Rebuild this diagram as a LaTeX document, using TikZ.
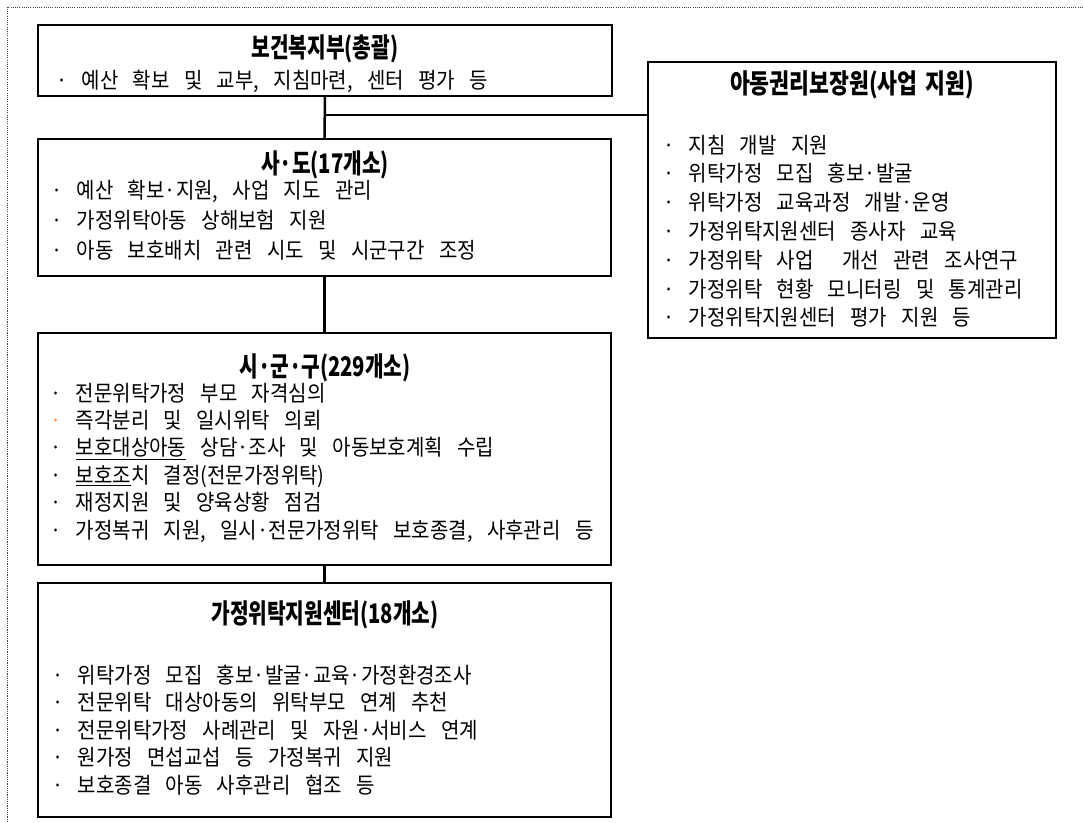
\documentclass[tikz,border=0pt]{standalone}
\usepackage{fontspec}
\setmainfont{Noto Sans CJK KR}
\newfontfamily\bodyfont[FakeStretch=0.91,WordSpace=3.2]{Noto Sans CJK KR}
\newfontfamily\titlefont[FakeStretch=0.75]{Noto Sans CJK KR}
\newfontfamily\rtitlefont[FakeStretch=0.80,WordSpace=1.6]{Noto Sans CJK KR}
\definecolor{dotorange}{HTML}{F08A4B}
\begin{document}
\begin{tikzpicture}[x=1pt,y=-1pt,
  orgbox/.style={draw=black, line width=2.8pt, inner sep=0pt, outer sep=0pt, anchor=north west},
  conn/.style={draw=black, line width=2.5pt},
  frame/.style={draw=black!75, line width=0.9pt, dash pattern=on 1.1pt off 1.1pt},
  ttl/.style={font=\titlefont\bfseries\fontsize{27}{31}\selectfont, inner sep=0pt, text height=21.6pt, text depth=1.6pt, anchor=center},
  rttl/.style={font=\rtitlefont\bfseries\fontsize{27}{31}\selectfont, inner sep=0pt, text height=21.6pt, text depth=1.6pt, anchor=center},
  bodytxt/.style={font=\bodyfont\fontsize{22}{26}\selectfont, inner sep=0pt, text height=17.6pt, text depth=1.3pt, anchor=west}]
\useasboundingbox (0,0) rectangle (1083,822);
\draw[frame] (1083,7) -- (7,7) -- (7,822);

% boxes
\node[orgbox, minimum width=574pt, minimum height=71pt] (b1) at (38,25) {};
\node[orgbox, minimum width=573pt, minimum height=137pt] (b2) at (38,139) {};
\node[orgbox, minimum width=573pt, minimum height=232pt] (b3) at (38,333) {};
\node[orgbox, minimum width=573pt, minimum height=234pt] (b4) at (38,583) {};
\node[orgbox, minimum width=408pt, minimum height=276pt] (r) at (648,62) {};

% connectors
\path (b1.south) ++(0,19) coordinate (j);
\draw[conn] (b1.south) -- (b2.north);
\draw[conn] (j) -- (j -| r.west);
\draw[conn] (b2.south) -- (b3.north);
\draw[conn] (b3.south) -- (b4.north);

% titles
\node[ttl] (t1) at (325,47) {보건복지부(총괄)};
\node[ttl] (t2) at (325,163) {사·도(17개소)};
\node[ttl] (t3) at (325,366) {시·군·구(229개소)};
\node[ttl] (t4) at (325,613) {가정위탁지원센터(18개소)};
\node[rttl] (t5) at (852,83) {아동권리보장원(사업 지원)};

% box 1
\node[bodytxt] (b1l1) at (56,80) {· 예산 확보 및 교부, 지침마련, 센터 평가 등};

% box 2
\foreach \t [count=\i] in {{· 예산 확보·지원, 사업 지도 관리},{· 가정위탁아동 상해보험 지원},{· 아동 보호배치 관련 시도 및 시군구간 조정}}
  \node[bodytxt] (b2l\i) at ({51},{190+30*(\i-1)}) {\t};

% box 3
\foreach \t [count=\i] in {{· 전문위탁가정 부모 자격심의},{{\color{dotorange}·} 즉각분리 및 일시위탁 의뢰},{· \underline{보호대상아동} 상담·조사 및 아동보호계획 수립},{· \underline{보호조}치 결정(전문가정위탁)},{· 재정지원 및 양육상황 점검},{· 가정복귀 지원, 일시·전문가정위탁 보호종결, 사후관리 등}}
  \node[bodytxt] (b3l\i) at ({50},{393+27.4*(\i-1)}) {\t};

% box 4
\foreach \t [count=\i] in {{· 위탁가정 모집 홍보·발굴·교육·가정환경조사},{· 전문위탁 대상아동의 위탁부모 연계 추천},{· 전문위탁가정 사례관리 및 자원·서비스 연계},{· 원가정 면섭교섭 등 가정복귀 지원},{· 보호종결 아동 사후관리 협조 등}}
  \node[bodytxt] (b4l\i) at ({52},{675+27.5*(\i-1)}) {\t};

% right box
\foreach \t [count=\i] in {{· 지침 개발 지원},{· 위탁가정 모집 홍보·발굴},{· 위탁가정 교육과정 개발·운영},{· 가정위탁지원센터 종사자 교육},{· 가정위탁 사업\ \ 개선 관련 조사연구},{· 가정위탁 현황 모니터링 및 통계관리},{· 가정위탁지원센터 평가 지원 등}}
  \node[bodytxt] (rl\i) at ({663},{145+28.8*(\i-1)}) {\t};
\end{tikzpicture}
\end{document}
